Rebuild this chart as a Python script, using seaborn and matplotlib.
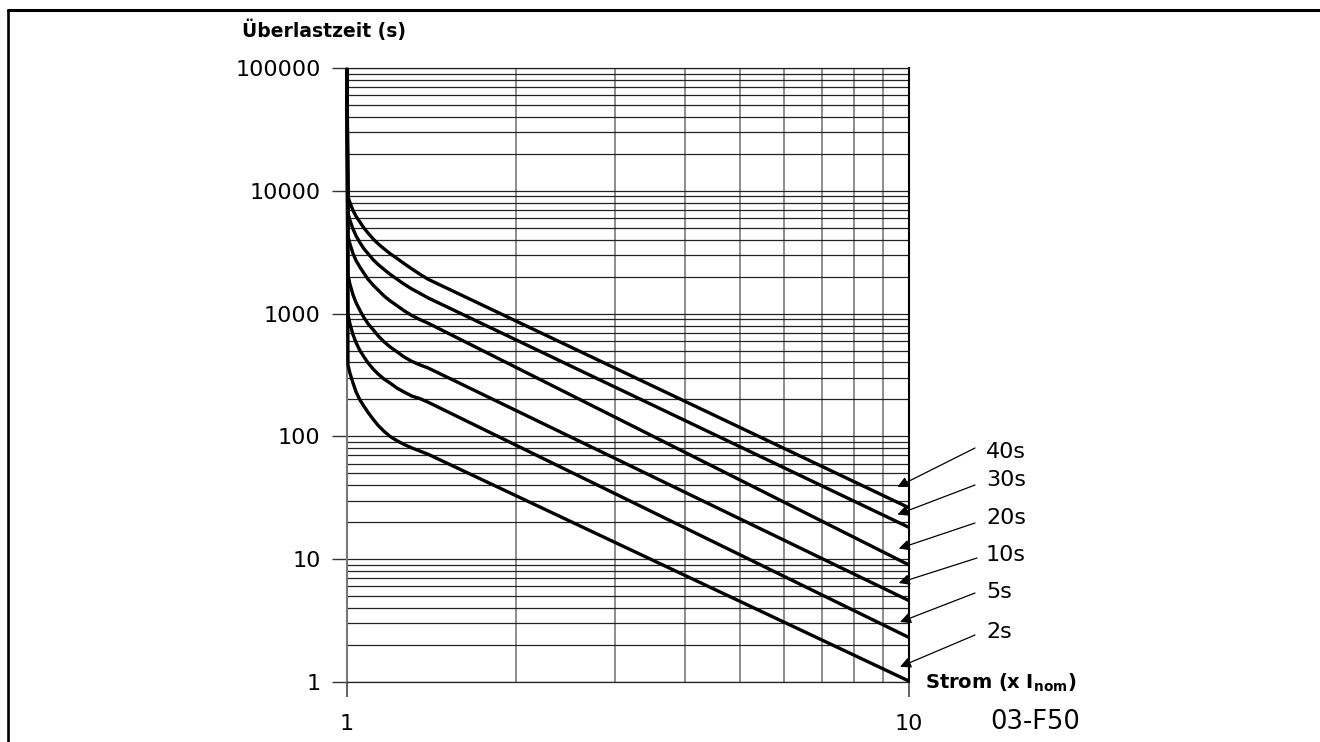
import matplotlib
matplotlib.use("Agg")
import matplotlib.pyplot as plt
from matplotlib.lines import Line2D
from matplotlib.ticker import FixedLocator, FixedFormatter, LogLocator, NullFormatter
import pandas as pd
import seaborn as sns

# Trip classes of the thermal overload protection
classes = ["2s", "5s", "10s", "20s", "30s", "40s"]

# Overload current (x I_nom), shared by all trip curves
current = [1.0, 1.004, 1.012, 1.025, 1.038, 1.055, 1.072, 1.09, 1.113, 1.136,
           1.164, 1.193, 1.228, 1.263, 1.305, 1.349, 1.394, 10.0]

# Overload time (s) per class
time_2s = [100000, 382, 328, 272, 230, 197, 176, 157, 138, 123,
           110, 100, 92.0, 86.1, 80.5, 75.9, 71.6, 1.02]
time_5s = [100000, 981, 828, 673, 579, 498, 444, 397, 354, 322,
           293, 272, 247, 230, 213, 203, 190, 2.31]
time_10s = [100000, 2050, 1740, 1420, 1225, 1057, 927, 828, 740, 660,
            589, 536, 488, 444, 408, 382, 361, 4.61]
time_20s = [100000, 4290, 3700, 3080, 2700, 2380, 2130, 1905, 1706, 1556,
            1393, 1271, 1159, 1057, 963, 893, 836, 9.0]
time_30s = [100000, 6550, 5750, 4880, 4290, 3770, 3370, 3080, 2750, 2510,
            2290, 2090, 1905, 1740, 1585, 1460, 1343, 18.2]
time_40s = [100000, 8950, 8020, 6920, 6190, 5550, 4970, 4530, 4060, 3700,
            3370, 3080, 2810, 2560, 2310, 2090, 1905, 26.3]

y_ticks = [1, 10, 100, 1000, 10000, 100000]
y_tick_labels = ["1", "10", "100", "1000", "10000", "100000"]
x_ticks = [1, 10]
x_tick_labels = ["1", "10"]

series = {"2s": time_2s, "5s": time_5s, "10s": time_10s,
          "20s": time_20s, "30s": time_30s, "40s": time_40s}
rows = []
for cls in classes:
    for x, y in zip(current, series[cls]):
        rows.append({"class": cls, "current": x, "time": y})
df = pd.DataFrame(rows)

sns.set_theme(style="white")
plt.rcParams["font.family"] = ["DejaVu Sans"]
plt.rcParams["text.color"] = "black"

W, H = 1320, 742
fig = plt.figure(figsize=(W / 100, H / 100), dpi=100)
ax = fig.add_axes([347 / W, 1 - 682 / H, (908.7 - 347) / W, (682 - 68) / H])
ax.set_xscale("log")
ax.set_yscale("log")
ax.set_xlim(1, 10)
ax.set_ylim(1, 100000)

sns.lineplot(data=df, x="current", y="time", hue="class", hue_order=classes,
             palette=["black"] * len(classes), estimator=None, sort=False,
             legend=False, linewidth=2.4, clip_on=False, ax=ax, zorder=5,
             solid_joinstyle="round", solid_capstyle="butt")

ax.set_axisbelow(True)
ax.xaxis.set_major_locator(FixedLocator(x_ticks))
ax.xaxis.set_major_formatter(FixedFormatter(x_tick_labels))
ax.yaxis.set_major_locator(FixedLocator(y_ticks))
ax.yaxis.set_major_formatter(FixedFormatter(y_tick_labels))
ax.xaxis.set_minor_locator(LogLocator(base=10, subs=range(2, 10)))
ax.yaxis.set_minor_locator(LogLocator(base=10, subs=range(2, 10)))
ax.xaxis.set_minor_formatter(NullFormatter())
ax.yaxis.set_minor_formatter(NullFormatter())

ax.grid(False)
ax.grid(which="minor", axis="x", color="#858585", linewidth=1.3)
ax.grid(which="both", axis="y", color="#222222", linewidth=0.9)

ax.tick_params(axis="y", which="major", direction="out", length=11, width=1,
               color="#333333", pad=8, labelsize=16, labelcolor="black", left=True)
ax.tick_params(axis="x", which="major", direction="out", length=11, width=1.3,
               color="#555555", pad=12, labelsize=16, labelcolor="black", bottom=True)
ax.tick_params(which="minor", length=0)
ax.set_xlabel("")
ax.set_ylabel("")

for side, col, lw in [("left", "#777777", 1.5), ("right", "black", 1.5),
                      ("top", "#222222", 0.9), ("bottom", "#222222", 0.9)]:
    ax.spines[side].set_color(col)
    ax.spines[side].set_linewidth(lw)
    ax.spines[side].set_visible(True)

# Axis titles and drawing number
fig.text(242 / W, 1 - 30 / H, "Überlastzeit (s)", fontsize=13.5, color="black",
         fontweight="bold", ha="left", va="center")
fig.text(925 / W, 1 - 689 / H, r"$\mathbf{Strom\ (x\ I_{nom})}$", fontsize=14,
         color="black", ha="left", va="baseline")
fig.text(990 / W, 1 - 722 / H, "03-F50", fontsize=18.5, color="black",
         ha="left", va="center")

# Class labels with pointer arrows towards the curve ends
label_rows = [
    ("40s", 452, (975, 448), (9.55, 38.8)),
    ("30s", 480, (975, 485), (9.55, 23.1)),
    ("20s", 518, (975, 523), (9.6, 12.2)),
    ("10s", 555, (977, 558), (9.6, 6.4)),
    ("5s", 592, (975, 593), (9.65, 3.08)),
    ("2s", 632, (975, 635), (9.65, 1.33)),
]
for text, ty, tail, tip in label_rows:
    fig.text(986 / W, 1 - ty / H, text, fontsize=16, color="black",
             ha="left", va="center")
    ax.annotate("", xy=tip, xycoords="data",
                xytext=(tail[0], H - tail[1]), textcoords="figure pixels",
                arrowprops=dict(arrowstyle="-|>", color="black", lw=0.9,
                                mutation_scale=16, shrinkA=0, shrinkB=0),
                annotation_clip=False)

# Outer frame lines
fig.add_artist(Line2D([8 / W, 8 / W], [0, 1 - 9.5 / H], transform=fig.transFigure,
                      color="black", linewidth=1.9))
fig.add_artist(Line2D([8 / W, 1.0], [1 - 9.5 / H, 1 - 9.5 / H], transform=fig.transFigure,
                      color="black", linewidth=2.2))

fig.savefig("out.png", dpi=100, facecolor="white")
